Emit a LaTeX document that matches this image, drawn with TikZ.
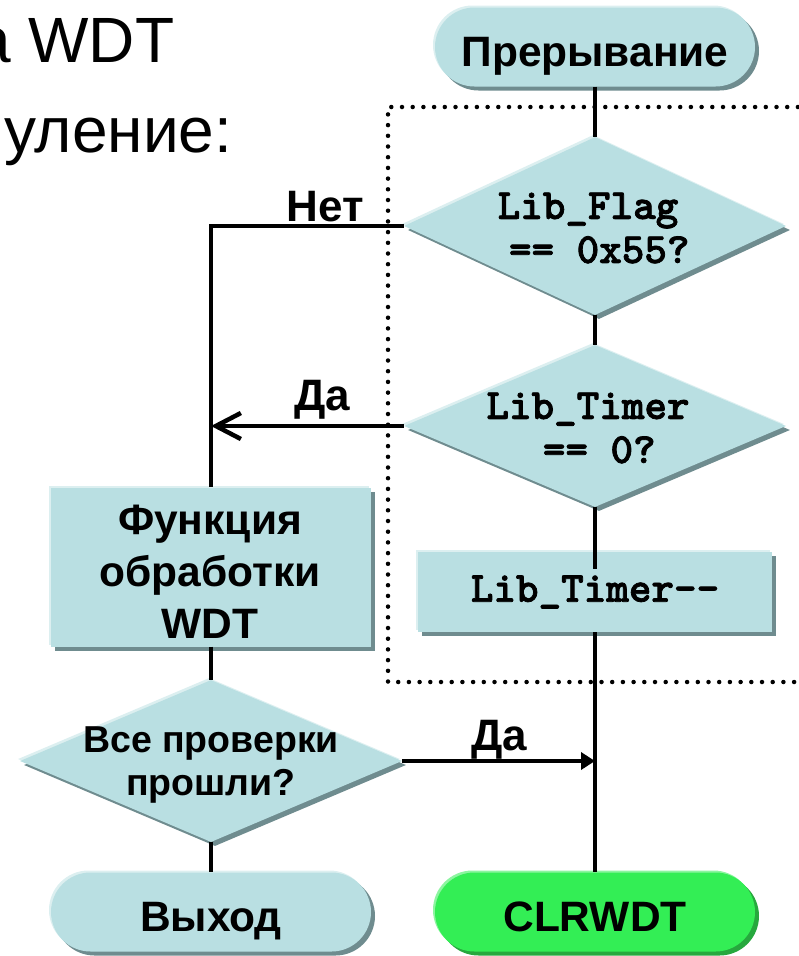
\documentclass[tikz,border=0pt]{standalone}
\usepackage{fontspec}
\setmainfont{Liberation Sans}
\newfontfamily\monof[FakeBold=1.8]{lmmonolt10-bold.otf}
\usetikzlibrary{shapes.geometric,shadows,arrows.meta}
\definecolor{fillc}{HTML}{B9DFE2}
\definecolor{shc}{HTML}{6F8C8F}
\definecolor{hlc}{HTML}{DCEFF0}
\definecolor{grn}{HTML}{33EE55}
\definecolor{grnsh}{HTML}{27A83E}
\definecolor{grnhl}{HTML}{8CF5A0}
\tikzset{
  shadowed/.style 2 args={general shadow={fill=#1, shadow xshift=-2pt, shadow yshift=2pt},
                          general shadow={fill=#2, shadow xshift=4pt, shadow yshift=-4pt}},
  boxbase/.style={inner sep=0pt, fill=fillc, shadowed={hlc}{shc}},
  termshape/.style={rectangle, rounded corners=39.5pt, minimum width=320pt, minimum height=79pt,
                    inner sep=0pt, font=\bfseries\fontsize{42.5}{48}\selectfont, text height=38pt, text depth=0pt},
  term/.style={termshape, fill=fillc, shadowed={hlc}{shc}},
  termg/.style={termshape, fill=grn, shadowed={grnhl}{grnsh}},
  dec/.style={boxbase, diamond, minimum width=382pt},
  procbox/.style={boxbase, rectangle},
  monofont/.style={font=\monof\fontsize{43}{44}\selectfont},
  mono/.style={monofont, align=center, inner sep=0pt},
  lab/.style={font=\bfseries\fontsize{44}{48}\selectfont, inner sep=0pt},
  big/.style={font=\fontsize{64}{70}\selectfont, inner sep=0pt},
  conn/.style={line width=4.5pt},
  dots/.style={line width=4.5pt, line cap=round, dash pattern=on 0pt off 10.7pt}
}
\begin{document}
\begin{tikzpicture}[x=1pt,y=-1pt]
\useasboundingbox (0,0) rectangle (799,956);
\clip (0,0) rectangle (799,956);
% heading fragments
\node[big, anchor=base west] (t1) at (-25,62) {а WDT};
\node[big, anchor=base west] (t2) at (4,152) {уление:};
% dotted frame
\draw[dots] (830,107) -- (388,107) -- (388,682) -- (830,682);
% nodes
\node[term] (start) at (595,47) {Прерывание};
\node[dec, minimum height=178pt] (d1) at (595,226) {};
\node[mono] (d1t) at (588,228) {Lib\_Flag\\\hphantom{0}== 0x55?};
\node[dec, minimum height=162pt] (d2) at (595,426) {};
\node[mono] (d2t) at (588,428) {Lib\_Timer\\\hphantom{0}== 0?};
\node[procbox, minimum width=354pt, minimum height=80pt, monofont] (tb) at (595,592) {Lib\_Timer-\kern0pt-};
\node[procbox, minimum width=320pt, minimum height=159pt] (fn) at (211,567) {};
\node[lab, align=center, font=\bfseries\fontsize{42.5}{52}\selectfont] (fnt) at (210,572) {Функция\\обработки\\WDT};
\node[dec, minimum height=162pt] (d3) at (211,761) {};
\node[lab, align=center, font=\bfseries\fontsize{37.5}{43}\selectfont] (d3t) at (211,765) {Все проверки\\прошли?};
\node[term] (exit) at (211,912) {Выход};
\node[termg] (clr) at (595,912) {CLRWDT};
\coordinate (tbin) at (595,569);
% connectors
\draw[conn] (start.south) -- (d1.north);
\draw[conn] (d1.south) -- (d2.north);
\draw[conn] (d2.south) -- (tbin);
\draw[conn] (tb.south) -- (clr.north);
\draw[conn] (d1.west) -| (fn.north);
\draw[conn, -{Straight Barb[length=25pt,width=26pt]}] (d2.west) -- (d2.west -| fn.north);
\draw[conn] (fn.south) -- (d3.north);
\draw[conn] (d3.south) -- (exit.north);
\draw[conn, -{Triangle[length=14pt,width=17pt]}] (d3.east) -- (d3.east -| clr.north);
% labels
\node[lab, anchor=base] (lnet) at (325,221) {Нет};
\node[lab, anchor=base] (lda1) at (322,410) {Да};
\node[lab, anchor=base] (lda2) at (499,750) {Да};
\end{tikzpicture}
\end{document}
